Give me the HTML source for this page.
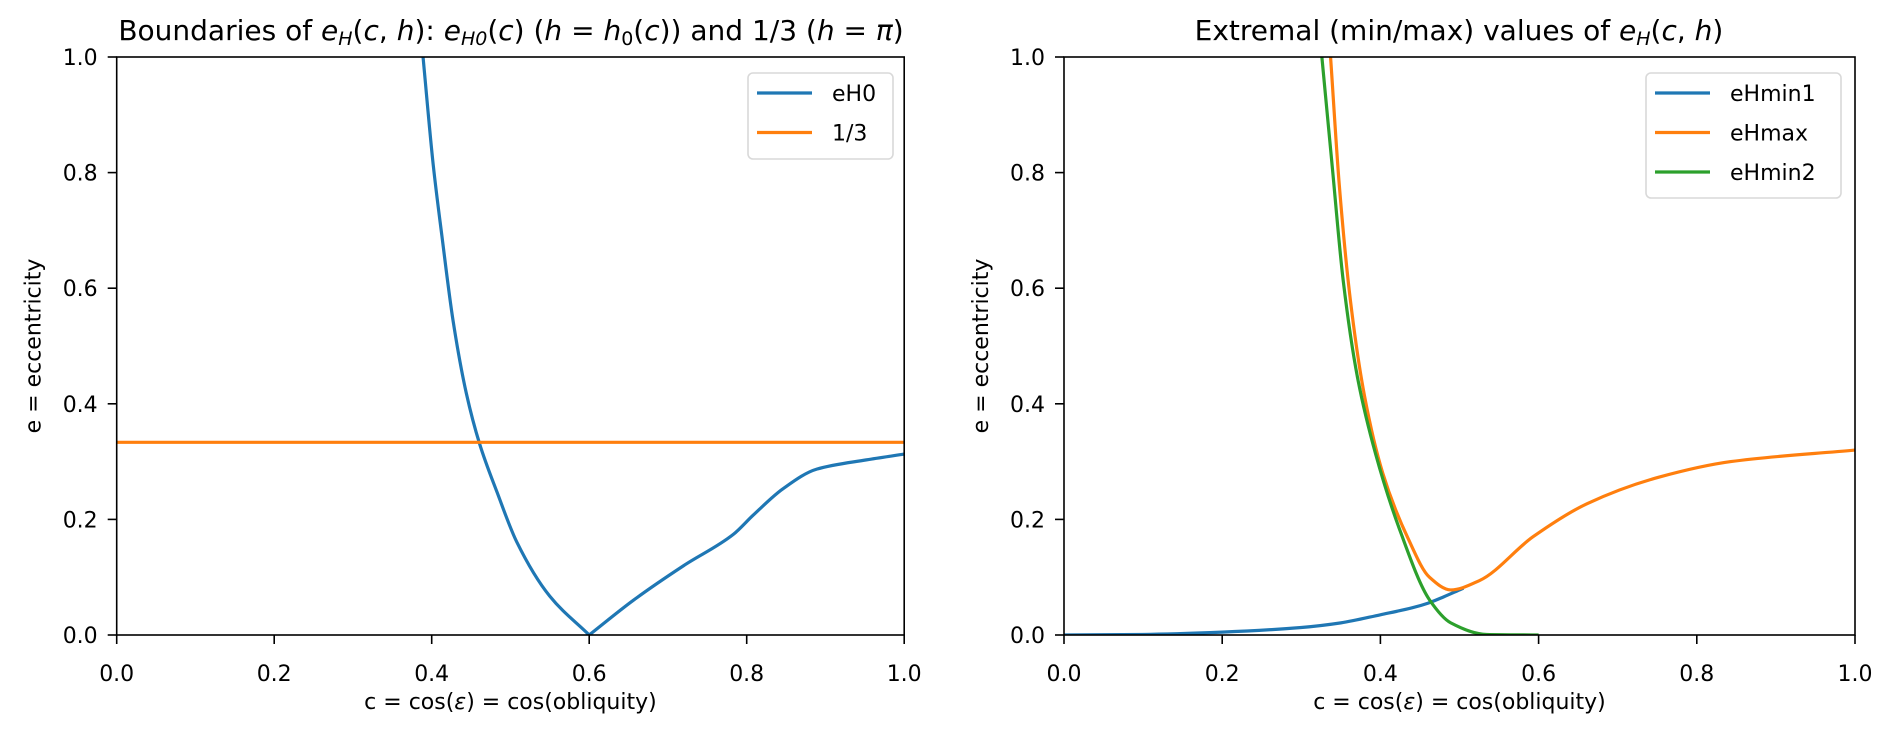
<!DOCTYPE html>
<html><head><meta charset="utf-8"><style>
html,body{margin:0;padding:0;background:#fff;}
svg{display:block;font-family:"DejaVu Sans","Liberation Sans",sans-serif;}
</style></head><body>
<svg id="fig" width="1892" height="736" viewBox="0 0 1892 736">
<defs>
<clipPath id="clipL"><rect x="116.7" y="57" width="787.5" height="578"/></clipPath>
<clipPath id="clipR"><rect x="1064" y="57" width="791" height="578"/></clipPath>
</defs>
<text x="511" y="40" font-size="28" text-anchor="middle">Boundaries of <tspan font-style="italic">e</tspan><tspan font-style="italic" font-size="19" dy="5">H</tspan><tspan dy="-5">(</tspan><tspan font-style="italic">c</tspan>, <tspan font-style="italic">h</tspan>): <tspan font-style="italic">e</tspan><tspan font-style="italic" font-size="19" dy="5">H0</tspan><tspan dy="-5">(</tspan><tspan font-style="italic">c</tspan>) (<tspan font-style="italic">h</tspan> = <tspan font-style="italic">h</tspan><tspan font-size="19" dy="5">0</tspan><tspan dy="-5">(</tspan><tspan font-style="italic">c</tspan>)) and 1/3 (<tspan font-style="italic">h</tspan> = <tspan font-style="italic">π</tspan>)</text>
<text x="1459" y="40" font-size="28" text-anchor="middle">Extremal (min/max) values of <tspan font-style="italic">e</tspan><tspan font-style="italic" font-size="19" dy="5">H</tspan><tspan dy="-5">(</tspan><tspan font-style="italic">c</tspan>, <tspan font-style="italic">h</tspan>)</text>
<g id="axL"></g>
<g id="axR"></g>
</svg>
<script>
const xTicks=[0,0.2,0.4,0.6,0.8,1.0];
const yTicks=[0,0.2,0.4,0.6,0.8,1.0];
const tickLabels=["0.0","0.2","0.4","0.6","0.8","1.0"];
const eH0_c=[0.389,0.402,0.413,0.427,0.444,0.461,0.483,0.508,0.550,0.6,0.656,0.720,0.783,0.808,0.846,0.889,0.952,1.0];
const eH0_e=[1.0,0.8125,0.69,0.545,0.418,0.330,0.247,0.161,0.067,0.0,0.06,0.120,0.174,0.207,0.253,0.287,0.303,0.313];
const third_c=[0,1];
const third_e=[1/3,1/3];
const eHmin1_c=[0,0.1,0.2,0.3,0.35,0.4,0.44,0.46,0.48,0.5,0.505];
const eHmin1_e=[0,0.001,0.005,0.013,0.021,0.035,0.047,0.055,0.066,0.078,0.081];
const eHmax_c=[0.337,0.348,0.362,0.380,0.403,0.435,0.462,0.489,0.525,0.593,0.661,0.752,0.843,1.0];
const eHmax_e=[1.0,0.779,0.580,0.413,0.280,0.167,0.100,0.078,0.094,0.170,0.227,0.273,0.300,0.320];
const eHmin2_c=[0.326,0.339,0.353,0.371,0.394,0.425,0.462,0.489,0.534,0.6];
const eHmin2_e=[1.0,0.812,0.613,0.446,0.313,0.180,0.061,0.021,0.001,0.0];
const eH0_cusp=9;

const NS="http://www.w3.org/2000/svg";
function mk(tag,attrs,parent){const e=document.createElementNS(NS,tag);for(const k in attrs)e.setAttribute(k,attrs[k]);parent.appendChild(e);return e;}
function monoPath(pts){
  const n=pts.length;
  if(n<3){return "M"+pts.map(p=>p.join(",")).join(" L");}
  const dx=[],s=[];
  for(let i=0;i<n-1;i++){dx.push(pts[i+1][0]-pts[i][0]);s.push((pts[i+1][1]-pts[i][1])/dx[i]);}
  const m=[s[0]];
  for(let i=1;i<n-1;i++){
    if(s[i-1]*s[i]<=0)m.push(0);
    else{const w1=2*dx[i]+dx[i-1],w2=dx[i]+2*dx[i-1];m.push((w1+w2)/(w1/s[i-1]+w2/s[i]));}
  }
  m.push(s[n-2]);
  let d="M"+pts[0][0].toFixed(2)+","+pts[0][1].toFixed(2);
  for(let i=0;i<n-1;i++){
    const h=dx[i]/3;
    d+=" C"+(pts[i][0]+h).toFixed(2)+","+(pts[i][1]+m[i]*h).toFixed(2)+" "+(pts[i+1][0]-h).toFixed(2)+","+(pts[i+1][1]-m[i+1]*h).toFixed(2)+" "+pts[i+1][0].toFixed(2)+","+pts[i+1][1].toFixed(2);
  }
  return d;
}
function axes(g,x0,w,clip,series,legend){
  const y0=635,h=578;
  const X=c=>x0+c*w, Y=e=>y0-e*h;
  const sg=mk('g',{'clip-path':`url(#${clip})`},g);
  series.forEach(s=>{
    const pts=s.c.map((c,i)=>[X(c),Y(s.e[i])]);
    const pieces=s.cusp?[pts.slice(0,s.cusp+1),pts.slice(s.cusp)]:[pts];
    const d=pieces.map(monoPath).join(" ");
    const p=mk('path',{d:d,fill:'none',stroke:s.color,'stroke-width':3.2,'stroke-linejoin':'round'},sg);
    
    
  });
  const frame=mk('rect',{x:x0,y:y0-h,width:w,height:h,fill:'none',stroke:'#000','stroke-width':1.6},g);
  
  
  xTicks.forEach((t,i)=>{
    const l=mk('line',{x1:X(t),x2:X(t),y1:y0,y2:y0+9,stroke:'#000','stroke-width':1.6},g);
    
    
    const tx=mk('text',{x:X(t),y:681,'font-size':22,'text-anchor':'middle'},g);
    tx.textContent=tickLabels[i];
    
    
  });
  yTicks.forEach((t,i)=>{
    const l=mk('line',{x1:x0-9,x2:x0,y1:Y(t),y2:Y(t),stroke:'#000','stroke-width':1.6},g);
    
    
    const tx=mk('text',{x:x0-19,y:Y(t)+8,'font-size':22,'text-anchor':'end'},g);
    tx.textContent=tickLabels[i];
    
    
  });
  const xl=mk('text',{x:x0+w/2,y:709,'font-size':22,'text-anchor':'middle'},g);
  xl.innerHTML='c = cos(<tspan font-style="italic">ε</tspan>) = cos(obliquity)';
  
  
  const yl=mk('text',{x:0,y:0,'font-size':22,'text-anchor':'middle',transform:`translate(${x0-76},346) rotate(-90)`},g);
  yl.textContent='e = eccentricity';
  
  
  const lg=mk('g',{},g);
  
  
  const lr=mk('rect',{x:legend.x,y:73,width:legend.w,height:series.length*39+8,rx:5,fill:'#fff','fill-opacity':0.8,stroke:'#d9d9d9','stroke-width':1.6},lg);
  
  
  series.forEach((s,i)=>{
    const yy=93+i*39.5;
    const ll=mk('line',{x1:legend.x+9,x2:legend.x+64,y1:yy,y2:yy,stroke:s.color,'stroke-width':3.2},lg);
    
    
    const lt=mk('text',{x:legend.x+84,y:yy+8,'font-size':22},lg);
    lt.textContent=s.label;
    
    
  });
}
axes(document.getElementById('axL'),116.7,787.5,'clipL',[
  {name:'eH0',label:'eH0',c:eH0_c,e:eH0_e,color:'#1f77b4',cusp:eH0_cusp},
  {name:'one-third',label:'1/3',c:third_c,e:third_e,color:'#ff7f0e'}
],{x:748,w:145});
axes(document.getElementById('axR'),1064,791,'clipR',[
  {name:'eHmin1',label:'eHmin1',c:eHmin1_c,e:eHmin1_e,color:'#1f77b4'},
  {name:'eHmax',label:'eHmax',c:eHmax_c,e:eHmax_e,color:'#ff7f0e'},
  {name:'eHmin2',label:'eHmin2',c:eHmin2_c,e:eHmin2_e,color:'#2ca02c'}
],{x:1646,w:195});
</script>
</body></html>
